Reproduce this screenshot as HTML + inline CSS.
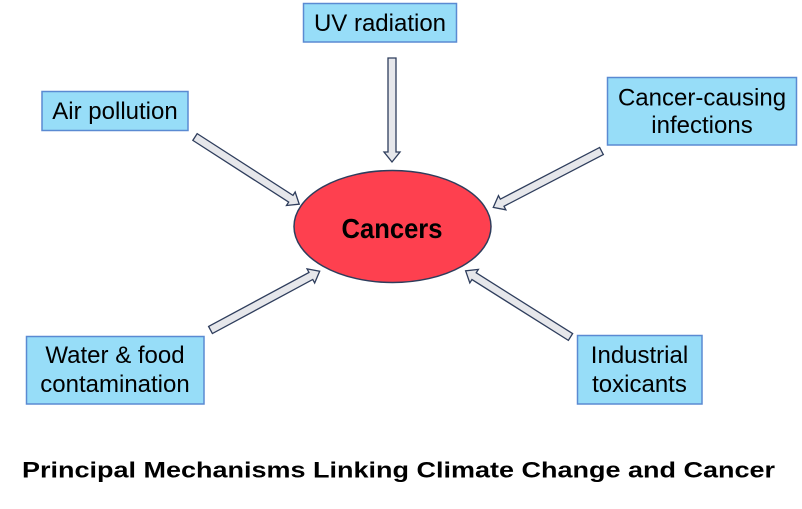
<!DOCTYPE html>
<html>
<head>
<meta charset="utf-8">
<style>
  html, body { margin:0; padding:0; background:#ffffff; }
  body { width:802px; height:509px; overflow:hidden; }
  svg { display:block; }
  text { font-family: "Liberation Sans", Arial, sans-serif; fill:#000; }
</style>
</head>
<body>
<svg width="802" height="509" viewBox="0 0 802 509" xmlns="http://www.w3.org/2000/svg">

  <!-- Boxes -->
  <g fill="#97DDF8" stroke="#5A8AD2" stroke-width="1.5">
    <rect x="303.5" y="3.5" width="153" height="38.5"/>
    <rect x="42" y="91.5" width="146" height="39"/>
    <rect x="607.5" y="77.5" width="189" height="67.5"/>
    <rect x="26.5" y="336.5" width="177.5" height="67.5"/>
    <rect x="577.5" y="335.5" width="124.5" height="68.5"/>
  </g>

  <!-- Box texts -->
  <g font-size="24" text-anchor="middle">
    <text x="380" y="31">UV radiation</text>
    <text x="115" y="119">Air pollution</text>
    <text x="702" y="105.5">Cancer-causing</text>
    <text x="702" y="133">infections</text>
    <text x="115" y="363">Water &amp; food</text>
    <text x="115" y="392">contamination</text>
    <text x="639.5" y="363">Industrial</text>
    <text x="639.5" y="392">toxicants</text>
  </g>

  <!-- Ellipse -->
  <ellipse cx="392.5" cy="226.5" rx="98.5" ry="56" fill="#FE404F" stroke="#2E3D5C" stroke-width="1.5"/>
  <text x="392" y="238" font-size="27.5" font-weight="bold" text-anchor="middle" textLength="101" lengthAdjust="spacingAndGlyphs">Cancers</text>

  <!-- Arrows -->
  <g fill="#E6E7EB" stroke="#2E3D5C" stroke-width="1.3" stroke-linejoin="miter">
    <g transform="translate(392,58) rotate(90)">
      <polygon points="0,-4 94,-4 94,-8 104,0 94,8 94,4 0,4"/>
    </g>
    <g transform="translate(195,137) rotate(32.8)">
      <polygon points="0,-4 114,-4 114,-8 124,0 114,8 114,4 0,4"/>
    </g>
    <g transform="translate(601.5,151) rotate(152.5)">
      <polygon points="0,-4 112,-4 112,-8 122,0 112,8 112,4 0,4"/>
    </g>
    <g transform="translate(210.5,330) rotate(-28.3)">
      <polygon points="0,-4 114,-4 114,-8 124,0 114,8 114,4 0,4"/>
    </g>
    <g transform="translate(570.5,337) rotate(-147.75)">
      <polygon points="0,-4 114,-4 114,-8 124,0 114,8 114,4 0,4"/>
    </g>
  </g>

  <!-- Title -->
  <text x="22" y="477.5" font-size="22.5" font-weight="bold" textLength="753" lengthAdjust="spacingAndGlyphs">Principal Mechanisms Linking Climate Change and Cancer</text>
</svg>
</body>
</html>
